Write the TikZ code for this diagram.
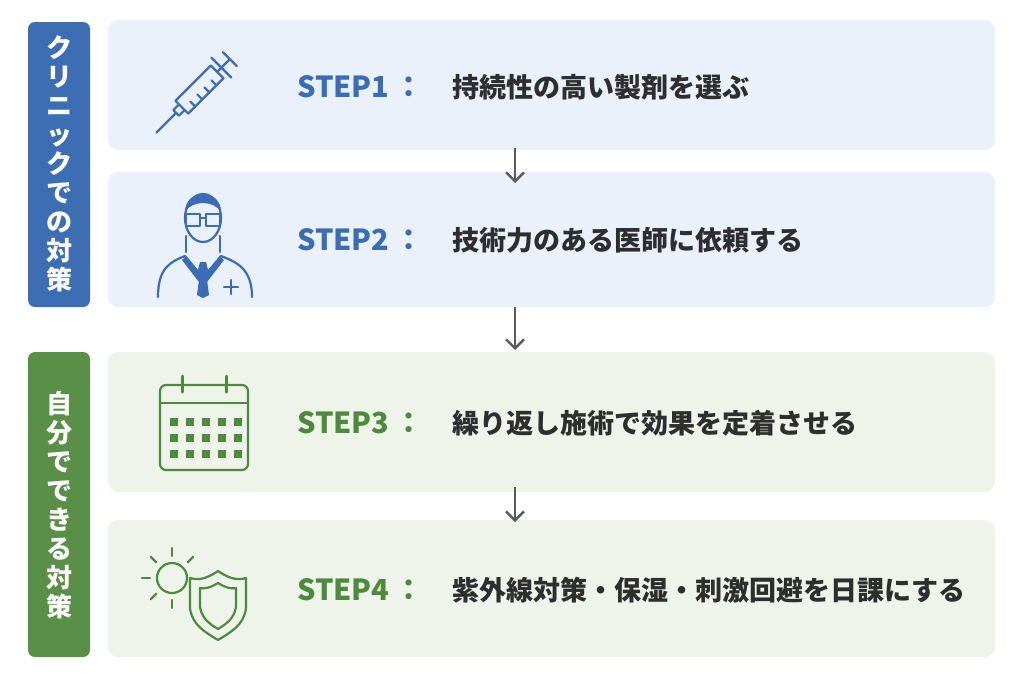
\documentclass[tikz,border=0pt]{standalone}
\usepackage{fontspec}
\setmainfont{Noto Sans CJK JP}
\usetikzlibrary{arrows.meta}
\definecolor{bbar}{HTML}{3D6DB3}
\definecolor{gbar}{HTML}{5A8F48}
\definecolor{bpan}{HTML}{EAF1FB}
\definecolor{gpan}{HTML}{EFF4EB}
\definecolor{btxt}{HTML}{3A6DB5}
\definecolor{gtxt}{HTML}{4E8A3E}
\definecolor{dtxt}{HTML}{2E2E2E}
\definecolor{arr}{HTML}{5A5A5A}
\tikzset{
 steplbl/.style={anchor=west,font=\bfseries\fontsize{29}{29}\selectfont,inner sep=0},
 desc/.style={anchor=west,font=\bfseries\fontsize{27}{27}\selectfont,text=dtxt,inner sep=0},
 vtxt/.style={text=white,font=\bfseries\fontsize{26}{29}\selectfont,align=center,text width=34pt},
 ar/.style={-{Straight Barb[length=9pt,width=18pt]},line width=2.4pt,arr},
 ico/.style={line width=2.2pt,line cap=round,line join=round}
}
\begin{document}
\begin{tikzpicture}[x=1pt,y=-1pt]
\useasboundingbox (0,0) rectangle (1024,683);
\fill[white] (0,0) rectangle (1024,683);
% bars
\fill[bbar,rounded corners=7pt] (28,22) rectangle (90,307);
\fill[gbar,rounded corners=7pt] (28,352) rectangle (90,657);
\node[vtxt] (v1) at (59,164) {ク\\リ\\ニ\\ッ\\ク\\で\\の\\対\\策};
\node[vtxt] (v2) at (59,505) {自\\分\\で\\で\\き\\る\\対\\策};
% panels
\fill[bpan,rounded corners=10pt] (108,20) rectangle (995,150);
\fill[bpan,rounded corners=10pt] (108,172) rectangle (995,307);
\fill[gpan,rounded corners=10pt] (108,352) rectangle (995,492);
\fill[gpan,rounded corners=10pt] (108,520) rectangle (995,657);
\coordinate (p1b) at (515,148); \coordinate (p2t) at (515,183);
\coordinate (p2b) at (515,307); \coordinate (p3t) at (515,350);
\coordinate (p3b) at (515,487); \coordinate (p4t) at (515,522);
\draw[ar] (p1b) -- (p2t);
\draw[ar] (p2b) -- (p3t);
\draw[ar] (p3b) -- (p4t);
% texts
\node[steplbl,text=btxt] (s1) at (297,87) {STEP1\,：};
\node[desc] (d1) at (452,87) {持続性の高い製剤を選ぶ};
\node[steplbl,text=btxt] (s2) at (297,240) {STEP2\,：};
\node[desc] (d2) at (452,240) {技術力のある医師に依頼する};
\node[steplbl,text=gtxt] (s3) at (297,423) {STEP3\,：};
\node[desc] (d3) at (452,423) {繰り返し施術で効果を定着させる};
\node[steplbl,text=gtxt] (s4) at (297,590) {STEP4\,：};
\node[desc] (d4) at (452,590) {紫外線対策・保湿・刺激回避を日課にする};
% syringe
\begin{scope}[ico,btxt,shift={(203,86)},rotate=-135]
 \draw (-20,-9) rectangle (30,9);
 \draw (30,-4) -- (38,-4) -- (38,4) -- (30,4);
 \draw (38,0) -- (66,0);
 \draw (-20,0) -- (-38,0); \draw (-38,-10) -- (-38,10);
 \draw (-26,-14) -- (-26,14);
 \foreach \i in {-10,0,10,20} \draw (\i,-9) -- (\i,-2);
\end{scope}
% doctor
\begin{scope}[ico,btxt]
 \draw (158,297) .. controls (158,268) and (170,262) .. (185,256) -- (203,278) -- (221,256) .. controls (236,262) and (252,268) .. (252,297);
 \fill (186,256) -- (203,276) -- (199,282) -- (182,260) -- cycle;
 \fill (220,256) -- (203,276) -- (207,282) -- (224,260) -- cycle;
 \fill (200,262) -- (206,262) -- (208,270) -- (203,276) -- (198,270) -- cycle;
 \fill (200,272) -- (206,272) -- (209,295) -- (203,298) -- (197,295) -- cycle;
 \draw (186,252) -- (186,236) (220,252) -- (220,236);
 \draw (203,218) ellipse (18 and 24);
 \fill (185,212) .. controls (185,188) and (221,188) .. (221,212) .. controls (214,200) and (192,200) .. (185,212);
 \draw[line width=1.6pt] (186,214) rectangle (200,226) (206,214) rectangle (220,226) (200,218) -- (206,218);
 \draw (231,280) -- (231,294) (224,287) -- (238,287);
\end{scope}
% calendar
\begin{scope}[ico,gtxt]
 \draw[rounded corners=6pt] (160,385) rectangle (248,470);
 \draw (160,403) -- (248,403);
 \draw[line width=3pt] (182,376) -- (182,392) (226,376) -- (226,392);
 \foreach \y in {422,438,454} \foreach \x in {174,190,206,222,238}
   \fill (\x-4,\y-4) rectangle (\x+4,\y+4);
\end{scope}
% sun + shield
\begin{scope}[ico,gtxt]
 \draw (172,578) circle (15);
 \foreach \a in {90,135,180,225,270,315} \draw (172,578) ++(\a:22) -- ++(\a:8);
 \fill[gpan] (218,571) .. controls (205,580) and (197,580) .. (190,578) -- (190,608) .. controls (192,625) and (205,632) .. (218,640) .. controls (231,632) and (244,625) .. (246,608) -- (246,578) .. controls (239,580) and (231,580) .. cycle;
 \draw (218,571) .. controls (205,580) and (197,580) .. (190,578) -- (190,608) .. controls (192,625) and (205,632) .. (218,640) .. controls (231,632) and (244,625) .. (246,608) -- (246,578) .. controls (239,580) and (231,580) .. cycle;
 \draw (218,583) .. controls (210,588) and (204,589) .. (200,588) -- (200,607) .. controls (202,619) and (210,624) .. (218,629) .. controls (226,624) and (234,619) .. (236,607) -- (236,588) .. controls (232,589) and (226,588) .. cycle;
\end{scope}
\end{tikzpicture}
\end{document}
